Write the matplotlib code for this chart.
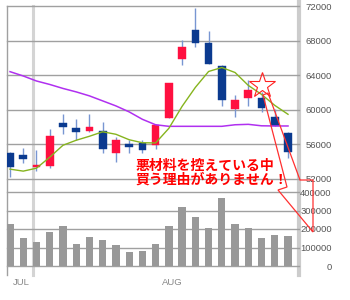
import matplotlib
matplotlib.use("Agg")
import matplotlib.pyplot as plt
from matplotlib.lines import Line2D
from matplotlib.patches import Polygon
import numpy as np

# daily candles (Jul -> Aug)
opens = [55000, 54750, 53400, 53480, 58470, 57860, 57550, 57520, 55020, 56020, 56170,
         55980, 59100, 65890, 69270, 67690, 65120, 60130, 61400, 61400, 59160, 57320]
highs = [55100, 55640, 55410, 57830, 59560, 58980, 59480, 58590, 56860, 56560, 56560,
         58400, 63100, 68080, 71770, 69070, 65200, 61660, 63390, 62040, 60130, 57400]
lows = [52220, 53870, 52940, 53220, 57250, 56560, 57440, 55060, 53980, 55020, 55020,
        55520, 59000, 65200, 67230, 65240, 60400, 59160, 60400, 59740, 58090, 54410]
closes = [53400, 54330, 53600, 56940, 58010, 57440, 58010, 55520, 56480, 55750, 55330,
          58290, 63080, 67230, 67690, 65350, 61170, 61090, 62320, 60250, 58090, 55130]
volumes = [225000, 150000, 128000, 182000, 214000, 118000, 155000, 139000, 112000, 75000, 80000,
           118000, 214000, 321000, 267000, 203000, 369000, 225000, 203000, 150000, 166000, 160000]
# moving averages
ma_short = [53140, 52910, 53250, 54520, 55900, 56480, 56940, 57460, 57170, 56540, 56190,
            56170, 57860, 60400, 62590, 64430, 64890, 64310, 62820, 61780, 60510, 59480]
ma_long = [64410, 63910, 63330, 62930, 62470, 62070, 61610, 61030, 60450, 59760, 58900,
           58270, 58090, 58090, 58090, 58090, 58090, 58270, 58320, 58150, 58130, 58130]

price_ticks = [52000, 56000, 60000, 64000, 68000, 72000]
vol_ticks = [0, 100000, 200000, 300000, 400000]
month_labels = ["JUL", "AUG"]
month_pos = [0.2, 11.5]
star_day = 19
star_price = 62820
note_lines = ["悪材料を控えている中", "買う理由がありません！"]

RED = "#ff1040"
BLUE = "#0b3a8f"
WICK = "#7896d2"
GRID = "#a0a0a0"
LABFONT = "Liberation Sans"

W, H = 350, 300
fig = plt.figure(figsize=(3.5, 3.0), dpi=100)
fig.patch.set_facecolor("white")

def fx(px):
    return px / W

def fy(py):
    return 1 - py / H

ax = fig.add_axes([fx(6.7), fy(179), fx(299 - 6.7), (179 - 6) / H])
axv = fig.add_axes([fx(6.7), fy(266), fx(299 - 6.7), (266 - 192) / H])

x = np.arange(len(opens))
o = np.array(opens)
c = np.array(closes)
up = c >= o
cols = [RED if u else BLUE for u in up]

ax.vlines(x, lows, highs, color=WICK, lw=1, zorder=2)
ax.bar(x, np.abs(c - o), bottom=np.minimum(o, c), width=0.58, color=cols,
       edgecolor=cols, lw=0.3, zorder=3)
ax.plot(x, ma_long, color="#b030f0", lw=1.1, zorder=4)
ax.plot(x, ma_short, color="#86b41e", lw=1.0, zorder=4)
ax.plot([star_day], [star_price], marker="*", ms=19, mfc="none", mec="#ff2020",
        mew=0.8, zorder=6, clip_on=False)

axv.bar(x, volumes, width=0.55, color="#999999", zorder=3)

for a, ticks in ((ax, price_ticks), (axv, vol_ticks)):
    a.patch.set_visible(False)
    a.set_xlim(-0.25, 21.83)
    a.set_ylim(ticks[0], ticks[-1])
    for s in a.spines.values():
        s.set_visible(False)
    for t in ticks:
        a.axhline(t, color=GRID, lw=1, zorder=1, clip_on=False)
    a.set_xticks([])
    a.yaxis.tick_right()
    a.set_yticks(ticks)
    a.set_yticklabels([str(t) for t in ticks])
    a.tick_params(axis="y", length=0, colors="#555555", labelsize=6.8)
    for lab in a.get_yticklabels():
        lab.set_fontfamily(LABFONT)

ax.tick_params(axis="y", pad=4.5)
axv.tick_params(axis="y", pad=23.5)
for lab in axv.get_yticklabels():
    lab.set_horizontalalignment("right")

# frame lines, kept under the axes content
fig.add_artist(Line2D([fx(6.7)] * 2, [fy(6), fy(275)], color=GRID, lw=1, zorder=-1))
fig.add_artist(Line2D([fx(33)] * 2, [fy(6), fy(275)], color="#d4d4d4", lw=2.2, zorder=-1))
fig.add_artist(Line2D([fx(299)] * 2, [1, fy(275)], color="#cccccc", lw=3, zorder=-1))

for lab, p in zip(month_labels, month_pos):
    axv.text(p, -0.22, lab, transform=axv.get_xaxis_transform(), ha="left", va="center",
             fontsize=6.8, color="#888888", family=LABFONT)

# callout
pts = [(263, 95), (287, 187), (278, 190), (313, 232), (313, 180), (300, 180), (268, 93)]
fig.add_artist(Polygon([(fx(a), fy(b)) for a, b in pts], closed=True, fill=False,
                       edgecolor="#ff3030", lw=0.9))
for i, line in enumerate(note_lines):
    fig.text(fx(136), fy(166 + 14 * i), line, ha="left", va="center", fontsize=10,
             color="#ff0000", fontweight="bold", family=["Noto Sans CJK JP", "DejaVu Sans"])

fig.savefig("out.png", dpi=100)
